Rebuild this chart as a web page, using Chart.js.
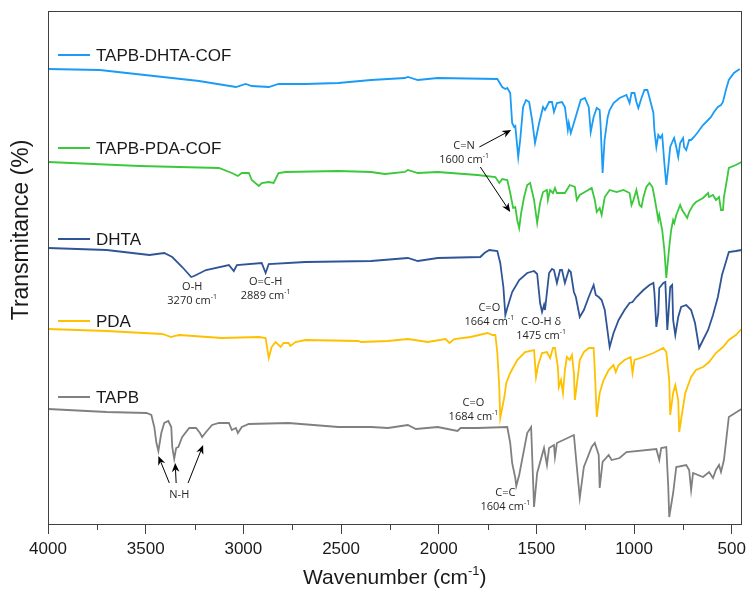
<!DOCTYPE html>
<html lang="en">
<head>
<meta charset="UTF-8">
<title>FTIR spectra</title>
<script src="https://cdn.jsdelivr.net/npm/chart.js"></script>
<style>
  html, body { margin: 0; padding: 0; background: #fff; }
  .wrap { width: 751px; height: 594px; }
</style>
</head>
<body>
<div class="wrap"><canvas id="ftir"></canvas></div>
<script>
// x = wavenumber (cm-1), y = transmittance in arbitrary stacked units
const xTicks = [4000, 3500, 3000, 2500, 2000, 1500, 1000, 500];
const xMinorTicks = [3750, 3250, 2750, 2250, 1750, 1250, 750];

const dhtaCofWn = [4000,3735,3227,3038,2988,2957,2870,2820,2682,2514,2346,2173,2158,2107,2005,1700,1675,1659,1649,1634,1624,1614,1608,1593,1583,1568,1553,1537,1522,1507,1486,1466,1456,1435,1420,1410,1395,1369,1354,1339,1334,1324,1308,1293,1273,1252,1232,1222,1207,1191,1176,1171,1161,1151,1135,1125,1105,1074,1039,1023,1013,998,988,978,962,947,932,922,901,896,886,876,866,856,845,835,825,815,800,795,784,774,764,749,744,733,718,708,693,673,647,621,606,591,571,555,545,530,515,489,459];
const dhtaCofT = [455,454,443,437,440,438,437,440,440,441,444,446,447,444,446,445,437,435,436,431,401,397,398,367,384,417,424,422,404,381,401,417,414,422,422,412,421,422,417,394,401,391,401,411,424,426,417,392,407,416,414,397,351,384,407,414,421,426,429,421,431,431,422,416,426,434,434,427,411,394,377,389,386,389,361,339,357,377,384,386,377,367,381,386,377,374,384,384,387,392,399,404,407,412,417,419,422,434,444,451,455];

const pdaCofWn = [4000,3532,3125,3059,3028,3008,2972,2957,2921,2906,2870,2845,2820,2784,2514,2346,2275,2173,2158,2107,2005,1802,1710,1690,1675,1649,1634,1619,1608,1598,1588,1578,1563,1547,1532,1512,1496,1481,1466,1446,1441,1430,1415,1405,1395,1354,1329,1303,1293,1278,1252,1217,1201,1191,1176,1166,1150,1125,1089,1054,1023,1013,1003,988,972,962,952,937,921,906,896,886,876,871,856,845,835,820,810,800,794,784,774,764,754,744,728,718,698,683,647,621,616,596,581,565,555,545,540,525,515,479,450];
const pdaCofT = [362,358,356,351,348,351,351,344,338,341,342,341,351,352,353,352,350,352,354,351,352,349,347,341,345,344,331,316,317,304,296,311,327,339,341,324,301,321,332,334,324,334,331,336,331,331,339,337,324,329,332,336,324,312,316,309,327,334,332,334,331,319,324,334,319,317,327,337,341,337,327,316,304,309,294,274,246,277,294,304,301,309,314,319,314,311,306,312,319,322,326,331,327,329,324,327,314,314,327,344,356,359,362];

const dhtaWn = [4000,3700,3481,3405,3364,3313,3267,3252,3191,3074,3049,3033,2906,2886,2870,2682,2346,2158,2107,2005,1787,1766,1741,1700,1685,1669,1659,1649,1624,1588,1547,1512,1496,1481,1471,1461,1456,1435,1420,1410,1395,1379,1369,1354,1334,1324,1308,1298,1278,1257,1232,1207,1196,1181,1166,1150,1125,1105,1079,1049,1023,1008,988,952,921,901,896,886,876,871,850,840,830,825,815,805,800,789,774,759,733,708,688,667,647,621,596,571,550,530,515,479,450];
const dhtaT = [276,274,269,271,267,257,247,248,254,259,253,259,261,251,260,262,263,266,263,266,267,271,274,273,261,237,209,216,232,244,251,253,250,221,212,219,214,251,255,254,241,254,254,241,254,252,232,227,207,214,227,239,229,227,224,214,177,191,204,214,221,222,227,234,239,241,232,197,211,236,241,242,194,207,237,239,204,189,207,217,219,214,201,176,184,194,209,227,249,262,272,273,274];

const pdaWn = [4000,3700,3415,3369,3354,3328,3110,2921,2886,2870,2855,2835,2809,2794,2769,2759,2733,2682,2412,2397,2260,2158,2056,1965,1945,1920,1837,1751,1725,1710,1700,1690,1685,1664,1654,1634,1598,1558,1512,1502,1491,1471,1446,1430,1415,1405,1390,1385,1374,1364,1354,1344,1329,1318,1308,1303,1288,1278,1257,1232,1207,1201,1191,1176,1156,1130,1105,1094,1079,1049,1018,1008,998,952,901,850,835,820,815,800,789,774,769,754,738,708,683,647,616,581,545,515,479,450];
const pdaT = [195,193,190,187,188,189,186,187,186,166,177,182,177,181,181,178,182,184,183,182,183,185,182,185,181,185,187,191,189,189,171,137,106,127,141,151,164,172,174,147,159,171,172,166,176,176,157,137,144,131,154,167,164,169,151,124,147,164,172,176,176,154,107,131,144,154,159,152,159,164,167,151,164,167,171,176,172,144,109,131,139,124,92,111,131,147,154,157,162,171,177,184,189,195];

const tapbWn = [4000,3700,3496,3471,3456,3445,3435,3420,3405,3384,3369,3364,3354,3344,3333,3313,3277,3242,3222,3211,3191,3160,3125,3074,3059,3038,3028,3008,2972,2769,2514,2346,2260,2158,2117,2005,1904,1888,1802,1649,1634,1624,1608,1603,1588,1547,1527,1512,1496,1461,1446,1435,1410,1405,1395,1308,1293,1278,1257,1217,1201,1181,1176,1161,1130,1115,1074,1039,886,871,861,835,825,820,800,784,733,718,708,698,647,616,596,581,565,555,540,515,450];
const tapbT = [115,112,111,109,97,81,73,91,101,103,97,77,65,76,77,87,96,96,91,87,92,99,101,101,94,96,91,97,100,101,97,97,96,99,95,97,93,96,96,97,81,61,46,38,49,91,97,17,51,76,59,76,79,67,81,89,57,26,57,77,81,69,36,62,69,64,66,72,75,64,76,77,37,7,31,57,59,54,34,51,47,52,46,54,59,52,64,107,115];

const FONT = "'Liberation Sans', Arial, sans-serif";
const NOTE_FONT = "'Open Sans', 'Liberation Sans', sans-serif";
const INK = '#1a1a1a';

function pts(wn, t) { return wn.map((w, i) => ({ x: w, y: t[i] })); }

function series(label, wn, t, color) {
  return { label, data: pts(wn, t), borderColor: color, backgroundColor: color,
           borderWidth: 1.8, pointRadius: 0, fill: false, tension: 0 };
}

// text with ^superscript^ segments
function drawRich(ctx, str, x, y, size, family, align) {
  const parts = str.split('^');
  const supSize = Math.round(size * 0.62);
  let w = 0;
  parts.forEach((p, i) => { ctx.font = (i % 2 ? supSize : size) + 'px ' + family; w += ctx.measureText(p).width; });
  let cx = align === 'left' ? x : x - w / 2;
  ctx.textAlign = 'left';
  ctx.textBaseline = 'middle';
  parts.forEach((p, i) => {
    const sup = i % 2 === 1;
    ctx.font = (sup ? supSize : size) + 'px ' + family;
    ctx.fillText(p, cx, sup ? y - size * 0.32 : y);
    cx += ctx.measureText(p).width;
  });
}

function arrow(ctx, x1, y1, x2, y2) {
  const a = Math.atan2(y2 - y1, x2 - x1);
  const L = 9, W = 3.8;
  ctx.beginPath();
  ctx.moveTo(x1, y1);
  ctx.lineTo(x2 - Math.cos(a) * L * 0.7, y2 - Math.sin(a) * L * 0.7);
  ctx.stroke();
  ctx.beginPath();
  ctx.moveTo(x2, y2);
  ctx.lineTo(x2 - Math.cos(a) * L + Math.sin(a) * W, y2 - Math.sin(a) * L - Math.cos(a) * W);
  ctx.lineTo(x2 - Math.cos(a) * L * 0.7, y2 - Math.sin(a) * L * 0.7);
  ctx.lineTo(x2 - Math.cos(a) * L - Math.sin(a) * W, y2 - Math.sin(a) * L + Math.cos(a) * W);
  ctx.closePath();
  ctx.fill();
}

const decorations = {
  id: 'decorations',
  afterDraw(chart, args, opts) {
    const { ctx, chartArea: a, scales: { x, y } } = chart;
    ctx.save();

    // frame + minor ticks
    ctx.strokeStyle = '#404040';
    ctx.lineWidth = 1;
    ctx.strokeRect(Math.round(a.left) + 0.5, Math.round(a.top) + 0.5, Math.round(a.right - a.left) - 1, Math.round(a.bottom - a.top));
    xMinorTicks.forEach(v => {
      const px = Math.round(x.getPixelForValue(v)) + 0.5;
      ctx.beginPath();
      ctx.moveTo(px, a.bottom);
      ctx.lineTo(px, a.bottom + 6);
      ctx.stroke();
    });

    // in-plot legend
    chart.data.datasets.forEach((ds, i) => {
      const py = y.getPixelForValue(opts.legendY[i]);
      ctx.strokeStyle = ds.borderColor;
      ctx.lineWidth = 2;
      ctx.beginPath();
      ctx.moveTo(a.left + 10, py);
      ctx.lineTo(a.left + 42, py);
      ctx.stroke();
      ctx.fillStyle = INK;
      drawRich(ctx, ds.label, a.left + 48, py + 1, 17, FONT, 'left');
    });

    // peak notes
    ctx.fillStyle = '#262626';
    opts.notes.forEach(n => {
      const px = x.getPixelForValue(n.wn), py = y.getPixelForValue(n.t);
      n.lines.forEach((s, i) => drawRich(ctx, s, px, py + i * 13.5, 11, NOTE_FONT, 'center'));
    });
    ctx.strokeStyle = '#000';
    ctx.fillStyle = '#000';
    ctx.lineWidth = 1;
    opts.arrows.forEach(r => {
      arrow(ctx, x.getPixelForValue(r.from[0]), y.getPixelForValue(r.from[1]),
                 x.getPixelForValue(r.to[0]), y.getPixelForValue(r.to[1]));
    });

    // axis titles
    ctx.fillStyle = INK;
    drawRich(ctx, 'Wavenumber (cm^-1^)', (a.left + a.right) / 2, 578, 21, FONT, 'center');
    ctx.translate(22, 230);
    ctx.rotate(-Math.PI / 2);
    drawRich(ctx, 'Transmitance (%)', 0, 0, 23, FONT, 'center');
    ctx.restore();
  }
};

new Chart(document.getElementById('ftir'), {
  type: 'line',
  data: {
    datasets: [
      series('TAPB-DHTA-COF', dhtaCofWn, dhtaCofT, '#1A9BF5'),
      series('TAPB-PDA-COF', pdaCofWn, pdaCofT, '#3CC83C'),
      series('DHTA', dhtaWn, dhtaT, '#2F5597'),
      series('PDA', pdaWn, pdaT, '#FFC000'),
      series('TAPB', tapbWn, tapbT, '#808080')
    ]
  },
  options: {
    responsive: true,
    maintainAspectRatio: false,
    animation: false,
    layout: { padding: { top: 11, right: 5, left: 0, bottom: 0 } },
    scales: {
      x: {
        type: 'linear',
        reverse: true,
        min: 450,
        max: 4000,
        afterBuildTicks: ax => { ax.ticks = xTicks.map(v => ({ value: v })); },
        afterFit: ax => { ax.height = 70; },
        grid: { display: true, drawOnChartArea: false, drawTicks: true, tickLength: 10, color: '#404040' },
        border: { display: true, color: '#404040' },
        ticks: { autoSkip: false, maxRotation: 0, padding: 5, color: INK, font: { family: FONT, size: 17 },
                 callback: v => String(v) }
      },
      y: {
        min: 0,
        max: 513,
        afterFit: ax => { ax.width = 48; },
        grid: { display: false },
        border: { display: true, color: '#404040' },
        ticks: { display: false }
      }
    },
    plugins: {
      legend: { display: false },
      tooltip: { enabled: false },
      decorations: {
        legendY: [469, 376, 285, 203, 127],
        notes: [
          { wn: 1870, t: 378, lines: ['C=N', '1600 cm^-1^'] },
          { wn: 3262, t: 237, lines: ['O-H', '3270 cm^-1^'] },
          { wn: 2886, t: 242, lines: ['O=C-H', '2889 cm^-1^'] },
          { wn: 1741, t: 216, lines: ['C=O', '1664 cm^-1^'] },
          { wn: 1476, t: 202, lines: ['C-O-H δ', '1475 cm^-1^'] },
          { wn: 1822, t: 121, lines: ['C=O', '1684 cm^-1^'] },
          { wn: 1659, t: 31, lines: ['C=C', '1604 cm^-1^'] },
          { wn: 3328, t: 29, lines: ['N-H'] }
        ],
        arrows: [
          { from: [1792, 377], to: [1629, 394] },
          { from: [1787, 357], to: [1634, 312] },
          { from: [3379, 41], to: [3435, 68] },
          { from: [3344, 41], to: [3349, 61] },
          { from: [3283, 41], to: [3206, 79] }
        ]
      }
    }
  },
  plugins: [decorations]
});
</script>
</body>
</html>
